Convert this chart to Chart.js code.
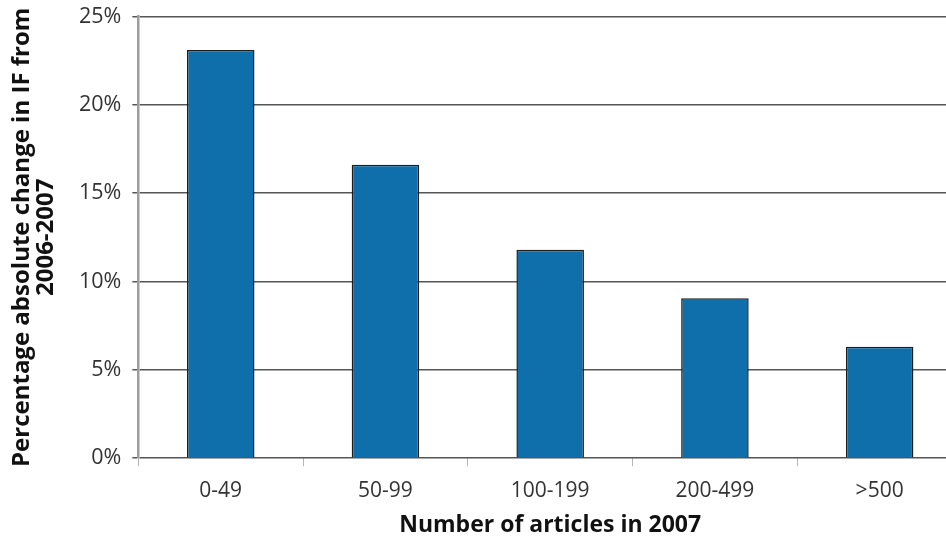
<!DOCTYPE html>
<html>
<head>
<meta charset="utf-8">
<script src="https://cdn.jsdelivr.net/npm/chart.js@4.4.0/dist/chart.umd.min.js"></script>
<style>
  html, body { margin: 0; padding: 0; background: #fff; overflow: hidden; }
  #wrap { width: 962px; height: 539px; position: relative; }
</style>
</head>
<body>
<div id="wrap"><canvas id="chart"></canvas></div>
<script>
// Data
const categories = ['0-49', '50-99', '100-199', '200-499', '>500'];
const changeValues = [23.1, 16.6, 11.8, 9.05, 6.3];
const yTicks = [0, 5, 10, 15, 20, 25];

const yTitle = ['Percentage absolute change in IF from', '2006-2007'];
const xTitle = 'Number of articles in 2007';

const FONT = "'Open Sans', 'Noto Sans', sans-serif";

const canvas = document.getElementById('chart');

new Chart(canvas, {
  type: 'bar',
  data: {
    labels: categories,
    datasets: [{
      label: 'Change',
      data: changeValues,
      backgroundColor: '#0f6fab',
      borderColor: '#1e1e1e',
      borderWidth: 1.5,
      borderSkipped: 'bottom',
      barPercentage: 0.41,
      categoryPercentage: 1.0,
    }],
  },
  options: {
    responsive: true,
    maintainAspectRatio: false,
    animation: false,
    layout: {
      padding: { top: 0, left: 10, right: 0, bottom: 0 },
    },
    plugins: {
      legend: { display: false },
      tooltip: { enabled: false },
    },
    scales: {
      x: {
        grid: {
          display: true,
          drawOnChartArea: false,
          offset: true,
          tickLength: 8,
          color: '#b5b5b5',
          lineWidth: 1,
        },
        border: { display: false },
        ticks: {
          color: '#333',
          font: { family: FONT, size: 21 },
          padding: 12,
          maxRotation: 0,
        },
        title: {
          display: true,
          text: xTitle,
          color: '#111',
          font: { family: FONT, size: 23, weight: 'bold', lineHeight: 1.2 },
          padding: { top: -4, bottom: 0 },
        },
      },
      y: {
        min: 0,
        max: 25,
        afterBuildTicks: function(axis) {
          axis.ticks = yTicks.map(v => ({ value: v }));
        },
        grid: {
          color: '#555',
          lineWidth: 1.5,
          tickLength: 6,
        },
        border: { display: true, color: '#a09c9c', width: 2.5 },
        ticks: {
          color: '#333',
          font: { family: FONT, size: 21.5, lineHeight: 0.5 },
          padding: 11,
          callback: function(value) {
            return value + '%';
          },
        },
        title: {
          display: true,
          text: yTitle,
          color: '#111',
          font: { family: FONT, size: 24, weight: 'bold', lineHeight: 1.0 },
          padding: { top: 0, bottom: 10 },
        },
      },
    },
  },
});
</script>
</body>
</html>
